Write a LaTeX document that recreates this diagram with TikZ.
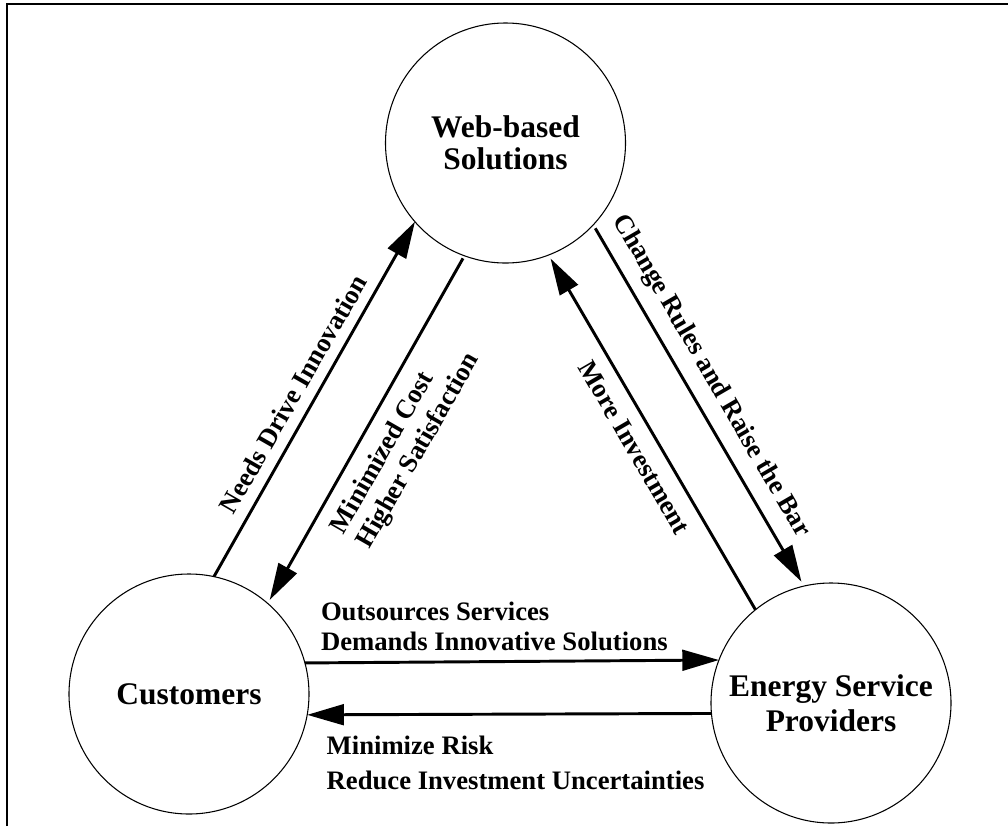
\documentclass[tikz,border=0pt]{standalone}
\usepackage{fontspec}
\setmainfont{Liberation Serif}
\usetikzlibrary{arrows.meta}
\newcommand\circfont{\fontsize{23.6pt}{24pt}\selectfont\bfseries}
\newcommand\labfont{\fontsize{20pt}{22.5pt}\selectfont\bfseries}
\tikzset{
  circ/.style={circle, draw, line width=0.8pt, minimum size=180pt, inner sep=0pt, outer sep=0pt, font=\circfont, align=center},
  lab/.style={font=\labfont, inner sep=0pt, outer sep=0pt},
  arr/.style={line width=2.2pt, -{Triangle[length=27.5pt,width=15.5pt]}},
  frameline/.style={line width=1.5pt},
}
\begin{document}
\begin{tikzpicture}[x=0.75pt,y=-0.75pt]
\useasboundingbox (0,0) rectangle (1008,826);
% frame (open at right and bottom)
\draw[frameline] (7,826) -- (7,4) -- (1008,4);
% circles
\node[circ] (W) at (505.5,143) {Web-based\\Solutions};
\node[circ] (C) at (189,694) {Customers};
\node[circ] (E) at (831,703) {Energy Service\\[2pt]Providers};
% connectors
\draw[arr] (C.78.3) -- (W.221.9);
\draw[arr, shorten <=2.25pt, shorten >=3pt] (W.250.7) -- (C.49.57);
\draw[arr, shorten <=3pt, shorten >=3.75pt] (W.-43.37) -- (E.103.71);
\draw[arr, shorten >=3pt] (E.129.52) -- (W.-69.18);
\draw[arr] (C.15.96) -- (E.159.51);
\draw[arr] (E.185.74) -- (C.-10.08);
% labels
\node[lab, rotate=60.13, anchor=base] (l1) at (301,398.6) {Needs Drive Innovation};
\node[lab, rotate=60.13, anchor=base west] (l2a) at (343.8,535) {Minimized Cost};
\node[lab, rotate=60.13, anchor=base west] (l2b) at (369.8,549.9) {Higher Satisfaction};
\node[lab, rotate=-59.83, anchor=base] (l3) at (705.5,379.6) {Change Rules and Raise the Bar};
\node[lab, rotate=-59.83, anchor=base] (l4) at (627.1,451.7) {More Investment};
\node[lab, anchor=base west] (l5a) at (321,620.7) {Outsources Services};
\node[lab, anchor=base west] (l5b) at (321,650.3) {Demands Innovative Solutions};
\node[lab, anchor=base west] (l6a) at (326.7,754.7) {Minimize Risk};
\node[lab, anchor=base west] (l6b) at (326.7,789.7) {Reduce Investment Uncertainties};
\end{tikzpicture}
\end{document}
